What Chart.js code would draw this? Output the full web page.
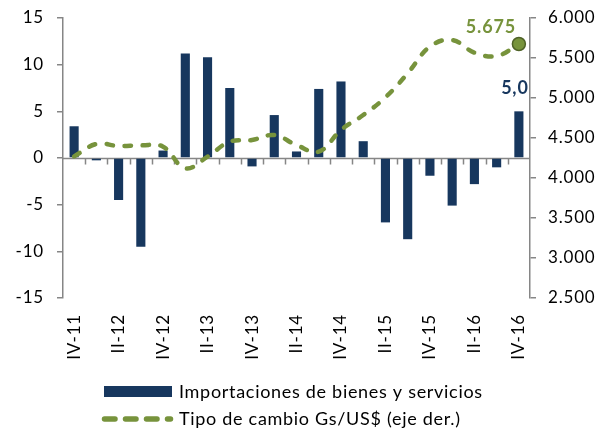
<!DOCTYPE html>
<html>
<head>
<meta charset="utf-8">
<script src="https://cdn.jsdelivr.net/npm/chart.js@4.4.1/dist/chart.umd.min.js"></script>
<style>
html,body{margin:0;padding:0;background:#fff;}
canvas{display:block;}
</style>
</head>
<body>
<canvas id="c" width="610" height="434"></canvas>
<script>
const categories = ['IV-11','I-12','II-12','III-12','IV-12','I-13','II-13','III-13','IV-13','I-14','II-14','III-14','IV-14','I-15','II-15','III-15','IV-15','I-16','II-16','III-16','IV-16'];
const importaciones = [3.4, -0.25, -4.5, -9.5, 0.8, 11.2, 10.8, 7.5, -0.9, 4.6, 0.7, 7.4, 8.2, 1.8, -6.9, -8.7, -1.9, -5.1, -2.8, -1.0, 5.0];
const tipoCambio = [4270, 4425, 4400, 4408, 4392, 4121, 4267, 4454, 4475, 4537, 4412, 4329, 4600, 4787, 5008, 5308, 5642, 5725, 5567, 5525, 5675];
const leftTicks = {min: -15, max: 15, step: 5};
const rightTicks = {min: 2500, max: 6000, step: 500};
const seriesNames = ['Importaciones de bienes y servicios', 'Tipo de cambio Gs/US$ (eje der.)'];
const lastFxLabel = '5.675';
const lastImpLabel = '5,0';

const NAVY = '#17375e';
const GREEN = '#77933c';
const GREEN_DARK = '#4f6228';
const AXIS = '#868686';
const FONT = 'Lato, "Open Sans", sans-serif';

const fmtThousands = v => {
  const s = Math.round(v).toString();
  return s.replace(/\B(?=(\d{3})+(?!\d))/g, '.');
};

const zeroPad = s => { s.paddingTop = 0; s.paddingBottom = 0; s.paddingLeft = 0; s.paddingRight = 0; };

const customPlugin = {
  id: 'custom',
  beforeDraw(chart) {
    chart.ctx.letterSpacing = '0.8px';
  },
  beforeDatasetsDraw(chart) {
    const ctx = chart.ctx;
    const y = chart.scales.y;
    const ca = chart.chartArea;
    const y0 = Math.round(y.getPixelForValue(0)) + 0.5;
    ctx.save();
    ctx.strokeStyle = AXIS;
    ctx.lineWidth = 1.5;
    ctx.beginPath();
    ctx.moveTo(ca.left, y0);
    ctx.lineTo(ca.right, y0);
    const n = categories.length;
    const w = (ca.right - ca.left) / n;
    for (let i = 1; i < n; i++) {
      const xx = Math.round(ca.left + i * w) + 0.5;
      ctx.moveTo(xx, y0);
      ctx.lineTo(xx, y0 + 6);
    }
    ctx.stroke();
    ctx.restore();
  },
  afterDatasetsDraw(chart) {
    const ctx = chart.ctx;
    const last = categories.length - 1;
    const pt = chart.getDatasetMeta(1).data[last];
    const bar = chart.getDatasetMeta(0).data[last];
    ctx.save();
    ctx.letterSpacing = '0.8px';
    ctx.font = 'bold 18px ' + FONT;
    ctx.textAlign = 'center';
    ctx.textBaseline = 'middle';
    ctx.fillStyle = GREEN;
    ctx.fillText(lastFxLabel, pt.x - 28, pt.y - 17);
    ctx.fillStyle = NAVY;
    ctx.fillText(lastImpLabel, bar.x - 4, bar.y - 23);
    ctx.restore();
  },
  afterDraw(chart) {
    const ctx = chart.ctx;
    ctx.save();
    ctx.fillStyle = NAVY;
    ctx.fillRect(104, 386, 68, 11);
    ctx.letterSpacing = '0.7px';
    ctx.font = '18px ' + FONT;
    ctx.fillStyle = '#000';
    ctx.textBaseline = 'middle';
    ctx.textAlign = 'left';
    ctx.fillText(seriesNames[0], 179, 392);
    ctx.strokeStyle = GREEN;
    ctx.lineWidth = 5.5;
    ctx.lineCap = 'round';
    ctx.setLineDash([10.5, 10.5]);
    ctx.beginPath();
    ctx.moveTo(104.5, 419);
    ctx.lineTo(170.5, 419);
    ctx.stroke();
    ctx.setLineDash([]);
    ctx.fillStyle = '#000';
    ctx.fillText(seriesNames[1], 179, 419);
    ctx.restore();
  }
};

new Chart(document.getElementById('c'), {
  data: {
    labels: categories,
    datasets: [
      {
        type: 'bar',
        label: seriesNames[0],
        data: importaciones,
        backgroundColor: NAVY,
        borderWidth: 0,
        yAxisID: 'y',
        barPercentage: 1,
        categoryPercentage: 0.41,
        order: 2
      },
      {
        type: 'line',
        label: seriesNames[1],
        data: tipoCambio,
        yAxisID: 'y1',
        borderColor: GREEN,
        borderWidth: 4.5,
        borderDash: [6.5, 11.5],
        borderCapStyle: 'round',
        tension: 0.4,
        fill: false,
        pointRadius: ctx => ctx.dataIndex === categories.length - 1 ? 6.5 : 0,
        pointBackgroundColor: GREEN,
        pointBorderColor: GREEN_DARK,
        pointBorderWidth: 1.5,
        order: 1
      }
    ]
  },
  options: {
    responsive: false,
    animation: false,
    layout: {padding: {top: 18, bottom: 66, left: 0, right: 0}},
    plugins: {
      legend: {display: false},
      tooltip: {enabled: false}
    },
    scales: {
      x: {
        type: 'category',
        grid: {display: false},
        border: {display: false},
        ticks: {
          autoSkip: false,
          maxRotation: 90,
          minRotation: 90,
          padding: 8,
          color: '#000',
          font: {family: FONT, size: 17},
          callback: function(v, i) { return i % 2 === 0 ? categories[i] : ''; }
        },
        afterFit: s => { s.height = 70; zeroPad(s); }
      },
      y: {
        position: 'left',
        min: leftTicks.min,
        max: leftTicks.max,
        grid: {display: true, drawOnChartArea: false, drawTicks: true, tickLength: 6, color: AXIS, lineWidth: 1.5},
        border: {display: true, color: AXIS, width: 1.5},
        ticks: {
          stepSize: leftTicks.step,
          padding: 13,
          color: '#000',
          font: {family: FONT, size: 17}
        },
        afterFit: s => { s.width = 63; zeroPad(s); }
      },
      y1: {
        position: 'right',
        min: rightTicks.min,
        max: rightTicks.max,
        grid: {display: true, drawOnChartArea: false, drawTicks: true, tickLength: 6, color: AXIS, lineWidth: 1.5},
        border: {display: true, color: AXIS, width: 1.5},
        ticks: {
          stepSize: rightTicks.step,
          padding: 12,
          color: '#000',
          font: {family: FONT, size: 17},
          callback: v => fmtThousands(v)
        },
        afterFit: s => { s.width = 80; zeroPad(s); }
      }
    }
  },
  plugins: [customPlugin]
});
</script>
</body>
</html>
